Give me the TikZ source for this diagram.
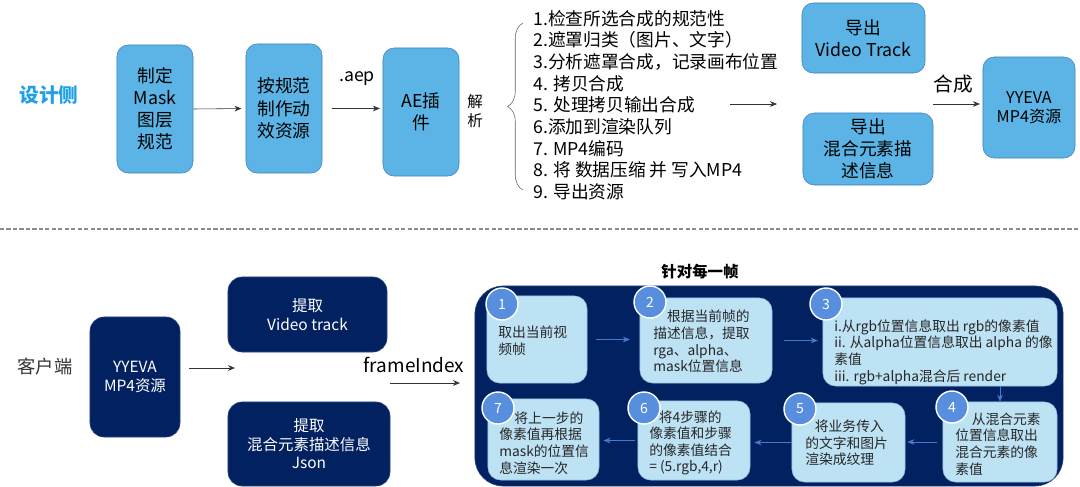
\documentclass[tikz,border=0pt]{standalone}
\usepackage{fontspec}
\setmainfont{Noto Sans CJK SC}
\usepackage{tikz}
\usetikzlibrary{arrows.meta,decorations.pathreplacing}
\definecolor{boxBlue}{RGB}{91, 180, 229}
\definecolor{edgeBlue}{RGB}{66, 128, 190}
\definecolor{titleBlue}{RGB}{32, 160, 230}
\definecolor{boxNavy}{RGB}{2, 33, 96}
\definecolor{edgeNavy}{RGB}{40, 70, 130}
\definecolor{stepFill}{RGB}{189, 226, 244}
\definecolor{stepEdge}{RGB}{150, 195, 225}
\definecolor{dotBlue}{RGB}{88, 142, 222}
\definecolor{flowBlue}{RGB}{72, 122, 205}

\tikzset{
  topbox/.style={draw=edgeBlue, fill=boxBlue, rounded corners=8pt, align=center, inner sep=0pt},
  navybox/.style={draw=edgeNavy, fill=boxNavy, text=white, rounded corners=10pt, align=center, inner sep=0pt},
  stepbox/.style={draw=stepEdge, fill=stepFill, rounded corners=9pt, inner sep=0pt},
  steptext/.style={anchor=west, align=left, inner sep=0pt, text=black!85, font=\fontsize{9.8}{11.8}\selectfont},
  numdot/.style={circle, draw=white, line width=1pt, fill=dotBlue, text=white, minimum size=0.8cm, inner sep=0pt, font=\fontsize{10}{12}\selectfont},
  flow/.style={-{Stealth[length=5pt, width=4pt]}, black!80, thin},
  stepflow/.style={-{Stealth[length=5pt, width=4pt]}, flowBlue, thin}
}

\begin{document}
\begin{tikzpicture}[x=0.025cm, y=-0.025cm]
  \useasboundingbox (0,0) rectangle (1080,487);

  % Design side
  \node[text=titleBlue, font=\bfseries\fontsize{14}{16}\selectfont] (design) at (49,95) {设计侧};
  \node[topbox, minimum width=1.9cm, minimum height=3.2cm, font=\fontsize{12.6}{15.6}\selectfont] (rules) at (155,109) {制定\\Mask\\图层\\规范};
  \node[topbox, minimum width=1.9cm, minimum height=3.225cm, font=\fontsize{12.6}{16}\selectfont] (make) at (284,108.5) {按规范\\制作动\\效资源};
  \node[topbox, minimum width=1.9cm, minimum height=3.2cm, font=\fontsize{12.6}{15.6}\selectfont] (plugin) at (421,112) {AE插\\件};
  \node[font=\fontsize{12.6}{15}\selectfont] (aep) at (357,79) {.aep};
  \draw[flow, shorten >=3pt] (rules.east) -- (make.west);
  \draw[flow, shorten <=7pt, shorten >=2pt] (make.east) -- (plugin.west |- make.east);

  % Parse steps
  \node[font=\fontsize{11}{13}\selectfont, align=center] (parse) at (475,111) {解\\析};
  \draw[decorate, decoration={brace, amplitude=11pt}, black!60] (523,190) -- (523,23);
  \node[anchor=west, align=left, inner sep=0pt, font=\fontsize{12.6}{15.4}\selectfont] (steps) at (533,105) {1.检查所选合成的规范性\\2.遮罩归类（图片、文字）\\3.分析遮罩合成，记录画布位置\\4. 拷贝合成\\5. 处理拷贝输出合成\\6.添加到渲染队列\\7. MP4编码\\8. 将 数据压缩 并 写入MP4\\9. 导出资源};
  \coordinate (outA) at (730,104);
  \coordinate (outB) at (777,104);
  \draw[flow] (outA) -- (outB);

  % Export
  \node[topbox, minimum width=3.075cm, minimum height=1.75cm, font=\fontsize{12.6}{15.6}\selectfont] (track) at (863.5,38) {导出\\Video Track};
  \node[topbox, minimum width=3.25cm, minimum height=1.8cm, font=\fontsize{12.6}{15.8}\selectfont] (info) at (868,149) {导出\\混合元素描\\述信息};
  \node[font=\fontsize{14}{16}\selectfont] (merge) at (953,84) {合成};
  \node[topbox, minimum width=2.3cm, minimum height=2.525cm, font=\fontsize{11.5}{13.5}\selectfont] (asset) at (1029,107.5) {YYEVA\\MP4资源};
  \coordinate (mergeIn) at (933,104);
  \draw[flow, shorten >=2pt] (mergeIn) -- (asset.west |- mergeIn);

  % Divider
  \draw[black!45, line width=1.4pt, dash pattern=on 3pt off 1.6pt] (0,229) -- (1080,229);

  % Client side
  \node[text=black!80, font=\fontsize{13}{16}\selectfont] (client) at (45,367) {客户端};
  \node[navybox, minimum width=2.25cm, minimum height=3cm, font=\fontsize{11}{13.5}\selectfont] (clientAsset) at (135,377) {YYEVA\\MP4资源};
  \coordinate (splitIn) at (235,368);
  \draw[flow, shorten <=6pt] (clientAsset.east |- splitIn) -- (splitIn);
  \node[navybox, minimum width=3.975cm, minimum height=1.875cm, font=\fontsize{11}{13}\selectfont] (getTrack) at (307.5,314.5) {提取\\Video track};
  \node[navybox, minimum width=4.05cm, minimum height=2.1cm, font=\fontsize{11}{13.2}\selectfont] (getJson) at (309,444) {提取\\混合元素描述信息\\Json};
  \node[font=\fontsize{13.5}{16}\selectfont] (frameIdx) at (414,365) {frameIndex};
  \coordinate (idxA) at (390,383);
  \coordinate (idxB) at (460,383);
  \draw[flow] (idxA) -- (idxB);

  % Per frame
  \node[font=\bfseries\fontsize{11}{13}\selectfont] (perFrame) at (700,272) {针对每一帧};
  \node[draw=edgeNavy, fill=boxNavy, rounded corners=20pt, minimum width=14.7cm, minimum height=5cm] (panel) at (769,386) {};

  \node[stepbox, minimum width=2.5cm, minimum height=2.175cm] (s1) at (537,339.5) {};
  \node[stepbox, minimum width=3.3cm, minimum height=2.125cm] (s2) at (706,340.5) {};
  \node[stepbox, minimum width=5.85cm, minimum height=2.2cm] (s3) at (940,342) {};
  \node[stepbox, minimum width=2.85cm, minimum height=2cm] (s4) at (1000,442) {};
  \node[stepbox, minimum width=2.825cm, minimum height=1.975cm] (s5) at (848.5,442.5) {};
  \node[stepbox, minimum width=2.8cm, minimum height=1.975cm] (s6) at (694,440.5) {};
  \node[stepbox, minimum width=2.775cm, minimum height=2.025cm] (s7) at (543.5,439.5) {};

  \node[steptext] (t1) at (498,340.5) {取出当前视\\频帧};
  \node[steptext] (t2) at (653,341.5) {\hspace{1em}根据当前帧的\\描述信息，提取\\rga、alpha、\\mask位置信息};
  \node[steptext] (t3) at (834,352) {i.从rgb位置信息取出 rgb的像素值\\ii. 从alpha位置信息取出 alpha 的像\\素值\\iii. rgb+alpha混合后 render};
  \node[steptext] (t4) at (955,444) {\hspace{1.2em}从混合元素\\位置信息取出\\混合元素的像\\素值};
  \node[steptext] (t5) at (805,443) {\hspace{0.7em}将业务传入\\的文字和图片\\渲染成纹理};
  \node[steptext] (t6) at (649,443) {\hspace{0.7em}将4步骤的\\像素值和步骤\\的像素值结合\\= (5.rgb,4,r)};
  \node[steptext] (t7) at (499,443) {\hspace{1.1em}将上一步的\\像素值再根据\\mask的位置信\\息渲染一次};

  \node[numdot] (n1) at (502,304) {1};
  \node[numdot] (n2) at (650,302) {2};
  \node[numdot] (n3) at (826,304) {3};
  \node[numdot] (n4) at (952,407) {4};
  \node[numdot] (n5) at (800,409) {5};
  \node[numdot] (n6) at (644,408) {6};
  \node[numdot] (n7) at (498,408) {7};

  \draw[stepflow, shorten <=6pt, shorten >=7pt] (s1.east) -- (s1.east -| s2.west);
  \draw[stepflow, shorten <=8pt, shorten >=3.5pt] (s2.east) -- (s2.east -| s3.west);
  \draw[stepflow] (s4.north |- s3.south) -- (s4.north);
  \draw[stepflow, shorten <=4pt, shorten >=1.5pt] (s4.west) -- (s4.west -| s5.east);
  \draw[stepflow, shorten >=3pt] (s5.west) -- (s5.west -| s6.east);
  \draw[stepflow, shorten <=2pt, shorten >=3pt] (s6.west) -- (s6.west -| s7.east);
\end{tikzpicture}
\end{document}
